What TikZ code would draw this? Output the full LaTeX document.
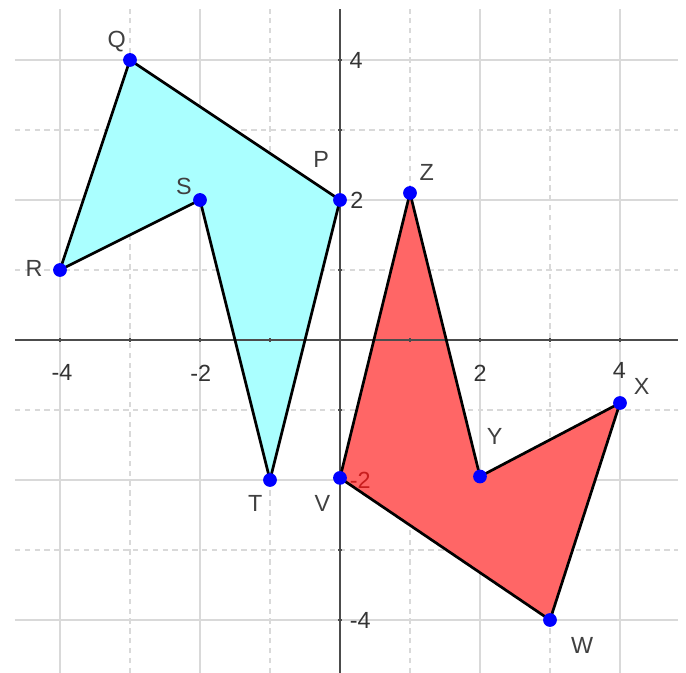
\documentclass[tikz,border=0pt]{standalone}
\usepackage{fontspec}
\setmainfont{Liberation Sans}
\begin{document}
\begin{tikzpicture}[x=1cm,y=1cm,
  gridmaj/.style={draw=black!15,line width=0.6pt},
  gridmin/.style={draw=black!15,line width=0.6pt,dash pattern=on 2.2pt off 1.8pt},
  axisline/.style={draw=black!70,line width=0.8pt},
  edge/.style={draw=black,line width=1.1pt,line join=round},
  pt/.style={circle,fill=blue,inner sep=0pt,minimum size=5.6pt},
  lab/.style={text=black!75,font=\fontsize{9.5}{11}\selectfont,inner sep=0pt},
  tick/.style={text=black!80,font=\fontsize{9.5}{11}\selectfont,inner sep=0pt}]
\useasboundingbox (-4.857,-4.757) rectangle (4.943,4.857);
% grid
\foreach \v in {-4,-2,2,4} {
  \draw[gridmaj] (\v,-4.757) -- (\v,4.729);
  \draw[gridmaj] (-4.643,\v) -- (4.829,\v);
}
\foreach \v in {-3,-1,1,3} {
  \draw[gridmin] (\v,-4.757) -- (\v,4.729);
  \draw[gridmin] (-4.643,\v) -- (4.829,\v);
}
% polygons
\coordinate (P) at (0,2);
\coordinate (Q) at (-3,4);
\coordinate (R) at (-4,1);
\coordinate (S) at (-2,2);
\coordinate (T) at (-1,-2);
\coordinate (V) at (0,-1.97);
\coordinate (W) at (3,-4);
\coordinate (X) at (4,-0.9);
\coordinate (Y) at (2,-1.95);
\coordinate (Z) at (1,2.1);
\fill[fill={rgb,255:red,170;green,255;blue,255}] (P) -- (Q) -- (R) -- (S) -- (T) -- cycle;
\fill[fill={rgb,255:red,255;green,102;blue,102}] (V) -- (W) -- (X) -- (Y) -- (Z) -- cycle;
% axes
\draw[axisline] (-4.643,0) -- (4.829,0);
\draw[axisline] (0,-4.757) -- (0,4.729);
\foreach \v in {-4,-3,-2,-1,1,2,3,4} {
  \draw[axisline,line width=0.6pt] (\v,-0.03) -- (\v,0.03);
  \draw[axisline,line width=0.6pt] (-0.03,\v) -- (0.03,\v);
}
% edges
\draw[edge] (P) -- (Q) -- (R) -- (S) -- (T) -- cycle;
\draw[edge] (V) -- (W) -- (X) -- (Y) -- (Z) -- cycle;
% tick labels
\node[tick] (tx1) at (-3.97,-0.47) {-4};
\node[tick] (tx2) at (-1.99,-0.47) {-2};
\node[tick] (tx3) at (2.0,-0.47) {2};
\node[tick] (tx4) at (3.99,-0.44) {4};
\node[tick] (ty1) at (0.23,4.0) {4};
\node[tick] (ty2) at (0.24,2.0) {2};
\node[tick,text={rgb,255:red,200;green,30;blue,30}] (ty3) at (0.29,-2.0) {-2};
\node[tick] (ty4) at (0.29,-4.0) {-4};
% points
\foreach \p in {P,Q,R,S,T,V,W,X,Y,Z} { \node[pt] (d\p) at (\p) {}; }
% labels
\node[lab] (lQ) at (-3.19,4.27) {Q};
\node[lab] (lS) at (-2.23,2.2) {S};
\node[lab] (lP) at (-0.27,2.58) {P};
\node[lab] (lR) at (-4.37,1.02) {R};
\node[lab] (lZ) at (1.24,2.4) {Z};
\node[lab] (lT) at (-1.21,-2.34) {T};
\node[lab] (lV) at (-0.25,-2.34) {V};
\node[lab] (lY) at (2.21,-1.38) {Y};
\node[lab] (lX) at (4.31,-0.66) {X};
\node[lab] (lW) at (3.46,-4.36) {W};
\end{tikzpicture}
\end{document}
